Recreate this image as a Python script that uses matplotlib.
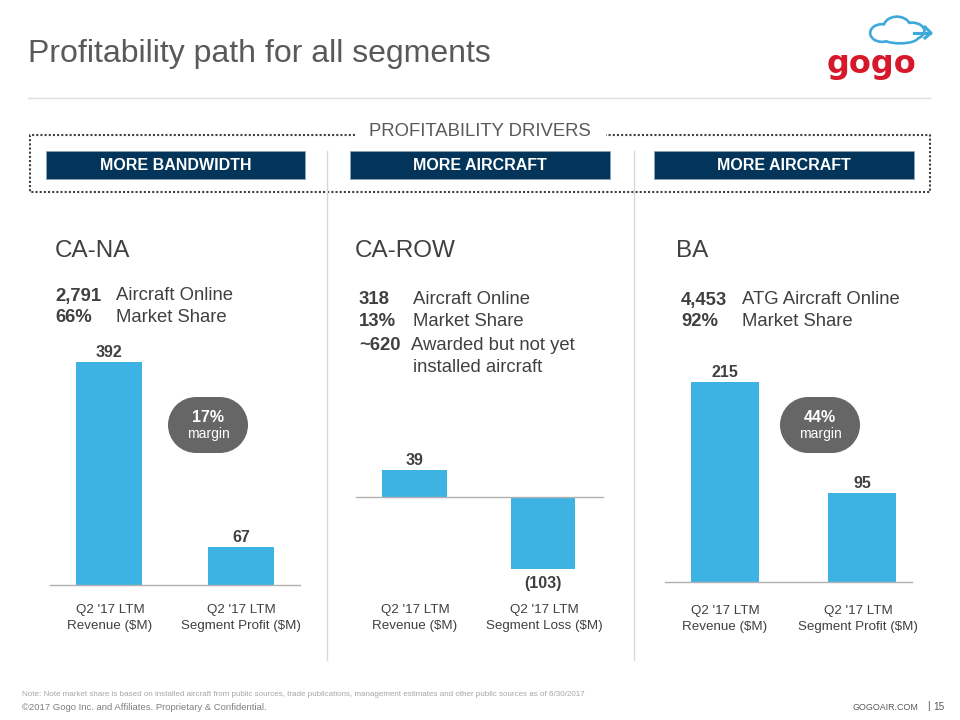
import matplotlib
matplotlib.use("Agg")
import matplotlib.pyplot as plt
from matplotlib.patches import Rectangle, Circle, Ellipse

plt.rcParams['font.family'] = ['Liberation Sans', 'DejaVu Sans']

# chart data
ca_na_labels = ["Q2 '17 LTM\nRevenue ($M)", "Q2 '17 LTM\nSegment Profit ($M)"]
ca_na_values = [392, 67]
ca_row_labels = ["Q2 '17 LTM\nRevenue ($M)", "Q2 '17 LTM\nSegment Loss ($M)"]
ca_row_values = [39, -103]
ba_labels = ["Q2 '17 LTM\nRevenue ($M)", "Q2 '17 LTM\nSegment Profit ($M)"]
ba_values = [215, 95]
driver_labels = ["MORE BANDWIDTH", "MORE AIRCRAFT", "MORE AIRCRAFT"]

BLUE = '#3DB3E3'
NAVY = '#03355B'
GREY = '#595959'
DARK = '#404040'
W, H = 960, 720

fig = plt.figure(figsize=(9.6, 7.2), dpi=100, facecolor='white')

# full page axes in pixel coordinates for the slide furniture
page = fig.add_axes([0, 0, 1, 1])
page.set_xlim(0, W)
page.set_ylim(H, 0)
page.axis('off')

page.text(28, 54, "Profitability path for all segments", size=23, color=GREY, va='center')
page.plot([28, 930], [98, 98], color='#DDDDDD', lw=1)

# logo
for cx, cy, w, h in [(882, 33, 23, 17), (897, 28, 27, 22), (912, 31, 24, 16), (900, 37, 36, 12)]:
    page.add_patch(Ellipse((cx, cy), w, h, fc='none', ec='#3FA9DC', lw=2.4))
for cx, cy, w, h in [(882, 33, 21, 15), (897, 28, 25, 20), (912, 31, 22, 14), (900, 37, 34, 10)]:
    page.add_patch(Ellipse((cx, cy), w, h, fc='white', ec='none'))
page.plot([914, 930], [33, 33], color='#3FA9DC', lw=2.2)
page.plot([925, 931, 925], [27, 33, 38], color='#3FA9DC', lw=2.2)
page.text(871, 64, "gogo", size=23, weight='bold', family='DejaVu Sans', color='#D7182A',
          ha='center', va='center')

# dotted drivers box
dots = dict(color=DARK, lw=1.5, ls=(0, (1, 1)))
page.plot([355, 30, 30, 930, 930, 606], [135, 135, 192, 192, 135, 135], **dots)
page.text(480, 131, "PROFITABILITY DRIVERS", size=13.3, color=GREY, ha='center', va='center')

for x0, x1, name in zip([46, 350, 654], [305, 610, 914], driver_labels):
    page.add_patch(Rectangle((x0, 151), x1 - x0, 28, fc=NAVY, ec='#8FA5B8', lw=0.5))
    page.text((x0 + x1) / 2, 165, name, size=11.5, weight='bold', color='white',
              ha='center', va='center')

# column dividers
for x in [327, 634]:
    page.plot([x, x], [151, 660], color='#D9D9D9', lw=1)

# headings
page.text(55, 251, "CA-NA", size=17.5, color=DARK, va='center')
page.text(355, 251, "CA-ROW", size=17.5, color=DARK, va='center')
page.text(676, 251, "BA", size=17.5, color=DARK, va='center')


def stats(x0, x1, y, bold, label):
    page.text(x0, y, bold, size=13.3, weight='bold', color=DARK, va='center')
    page.text(x1, y, label, size=13.3, color=DARK, va='center')


stats(55, 116, 296, "2,791", "Aircraft Online")
stats(55, 116, 318, "66%", "Market Share")
stats(359, 413, 300, "318", "Aircraft Online")
stats(359, 413, 322, "13%", "Market Share")
stats(359, 411, 345, "~620", "Awarded but not yet")
page.text(413, 367, "installed aircraft", size=13.3, color=DARK, va='center')
stats(681, 742, 300, "4,453", "ATG Aircraft Online")
stats(681, 742, 322, "92%", "Market Share")


def panel(x0, x1, y_top, y_bottom, xlim, ylim, values, texts):
    ax = fig.add_axes([x0 / W, 1 - y_bottom / H, (x1 - x0) / W, (y_bottom - y_top) / H])
    ax.patch.set_alpha(0)
    ax.bar(range(len(values)), values, width=0.5, color=BLUE)
    ax.axhline(0, color='#B0B0B0', lw=1, clip_on=False)
    ax.set_xlim(*xlim)
    ax.set_ylim(*ylim)
    ax.axis('off')
    for i, v in enumerate(values):
        ax.annotate(texts[i], (i, v), xytext=(0, 1.5 if v >= 0 else -5), textcoords='offset points',
                    ha='center', va='bottom' if v >= 0 else 'top', size=11.5,
                    weight='bold', color=DARK)


panel(50, 300, 340, 585, (-0.447, 1.447), (0, 430), ca_na_values, ["392", "67"])
panel(356, 603, 440, 600, (-0.455, 1.467), (-147, 82), ca_row_values, ["39", "(103)"])
panel(665, 912, 350, 582, (-0.438, 1.365), (0, 249), ba_values, ["215", "95"])

# category labels
label_pos = [(ca_na_labels, [110, 241], 618), (ca_row_labels, [415, 544], 618), (ba_labels, [725, 858], 619)]
for labels, xs, y in label_pos:
    for lab, x in zip(labels, xs):
        page.text(x, y, lab, size=9.6, color=DARK, ha='center', va='center', linespacing=1.4)

# margin pills
for cx, cy, pct in [(208, 425, "17%"), (820, 425, "44%")]:
    r = 28
    half = 12
    page.add_patch(Circle((cx - half, cy), r, fc='#666666', ec='none'))
    page.add_patch(Circle((cx + half, cy), r, fc='#666666', ec='none'))
    page.add_patch(Rectangle((cx - half, cy - r), 2 * half, 2 * r, fc='#666666', ec='none'))
    page.text(cx, cy - 8, pct, size=11.5, weight='bold', color='white', ha='center', va='center')
    page.text(cx, cy + 9, "margin", size=10, color='white', ha='center', va='center')

# footer
page.text(22, 695, "Note: Note market share is based on installed aircraft from public sources, trade publications, "
          "management estimates and other public sources as of 6/30/2017", size=5.8, color='#A6A6A6', va='center')
page.text(22, 707, "©2017 Gogo Inc. and Affiliates. Proprietary & Confidential.", size=6.8, color='#7F7F7F', va='center')
page.text(918, 707, "GOGOAIR.COM", size=6.4, color=GREY, ha='right', va='center')
page.text(928, 706, "|", size=7.5, color=GREY, ha='center', va='center')
page.text(945, 707, "15", size=7.2, color=GREY, ha='right', va='center')

plt.savefig("out.png", dpi=100, facecolor='white')
